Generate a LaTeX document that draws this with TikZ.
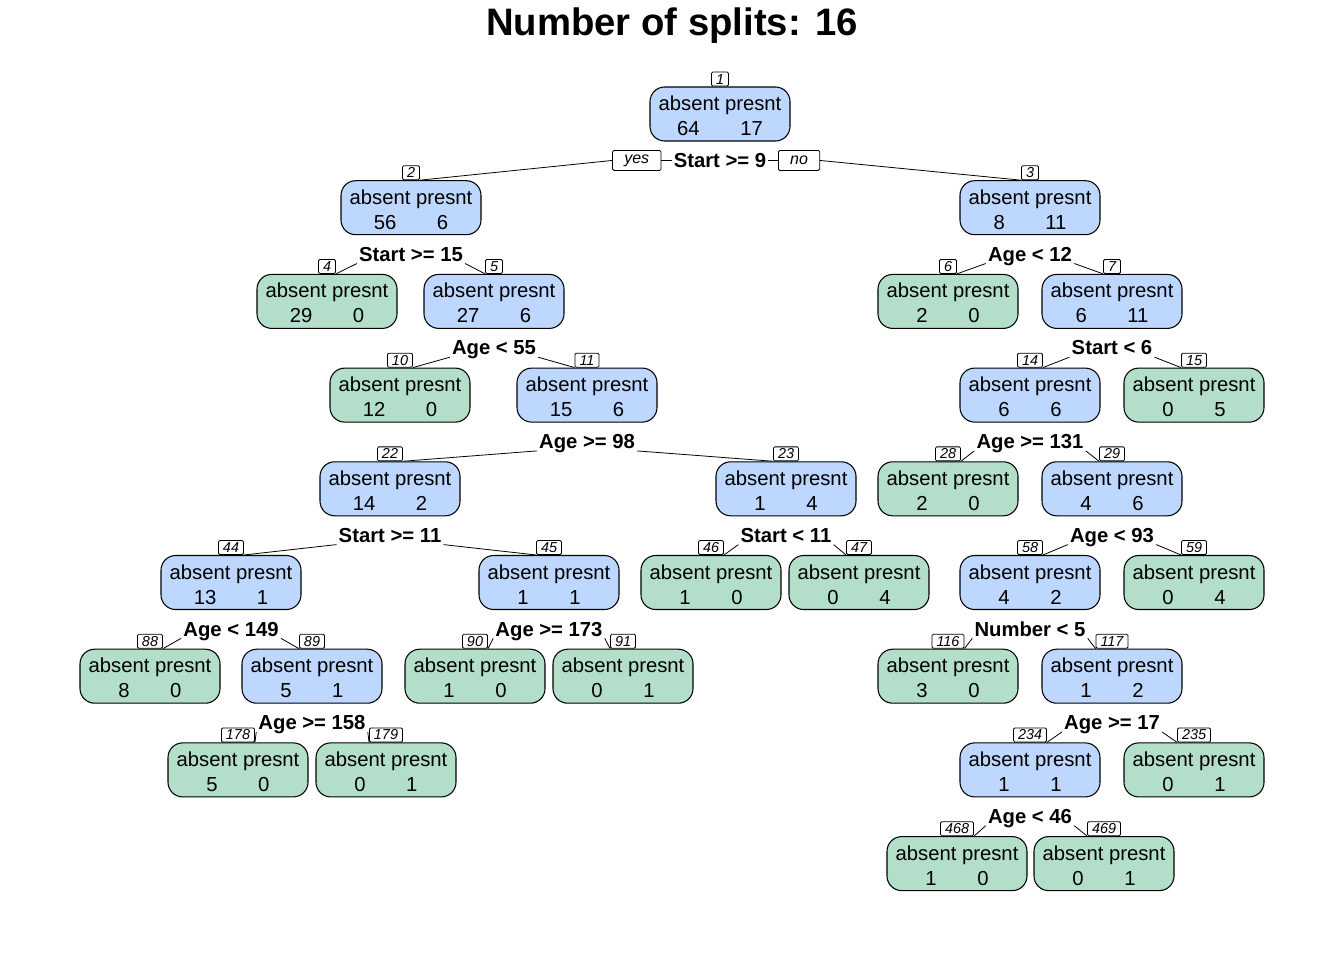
\documentclass[tikz,border=0pt]{standalone}
\usepackage{fontspec}
\setmainfont{Liberation Sans}
\usetikzlibrary{positioning}
\definecolor{splitblue}{HTML}{BDD7FF}
\definecolor{leafgreen}{HTML}{B3DFCA}

\begin{document}
\begin{tikzpicture}[
    x=0.75pt, y=-0.75pt,
    tnode/.style={
        draw, fill=#1,
        line width=0.8pt,
        rounded corners=11pt,
        minimum width=105pt, minimum height=40.5pt,
        inner sep=0pt,
        align=center,
        font=\fontsize{15.2}{18.75}\selectfont
    },
    idx/.style={
        draw, fill=white,
        line width=0.6pt,
        rounded corners=1pt,
        inner xsep=3.4pt, inner ysep=0pt,
        minimum height=10.5pt,
        font=\fontsize{10.8}{12}\selectfont\itshape
    },
    split/.style={
        inner sep=1.5pt, text depth=0pt,
        anchor=base,
        font=\fontsize{15.2}{18}\selectfont\bfseries
    },
    yesno/.style={
        draw, fill=white,
        line width=0.6pt,
        rounded corners=1pt,
        inner xsep=8.8pt, inner ysep=0pt,
        minimum height=15pt,
        font=\fontsize{12}{14}\selectfont\itshape
    },
    edge/.style={line width=0.6pt}
]
\useasboundingbox (0,0) rectangle (1344,960);

\node[font=\fontsize{28.7}{32}\selectfont\bfseries] (title) at (672,26) {Number of splits: 16};

% nodes: id / x / level / colour / absent / presnt
\foreach \id/\x/\lv/\col/\a/\b in {
    1/720/0/splitblue/64/17,
    2/411/1/splitblue/56/6,
    3/1030/1/splitblue/8/11,
    4/327/2/leafgreen/29/0,
    5/494/2/splitblue/27/6,
    6/948/2/leafgreen/2/0,
    7/1112/2/splitblue/6/11,
    10/400/3/leafgreen/12/0,
    11/587/3/splitblue/15/6,
    14/1030/3/splitblue/6/6,
    15/1194/3/leafgreen/0/5,
    22/390/4/splitblue/14/2,
    23/786/4/splitblue/1/4,
    28/948/4/leafgreen/2/0,
    29/1112/4/splitblue/4/6,
    44/231/5/splitblue/13/1,
    45/549/5/splitblue/1/1,
    46/711/5/leafgreen/1/0,
    47/859/5/leafgreen/0/4,
    58/1030/5/splitblue/4/2,
    59/1194/5/leafgreen/0/4,
    88/150/6/leafgreen/8/0,
    89/312/6/splitblue/5/1,
    90/475/6/leafgreen/1/0,
    91/623/6/leafgreen/0/1,
    116/948/6/leafgreen/3/0,
    117/1112/6/splitblue/1/2,
    178/238/7/leafgreen/5/0,
    179/386/7/leafgreen/0/1,
    234/1030/7/splitblue/1/1,
    235/1194/7/leafgreen/0/1,
    468/957/8/leafgreen/1/0,
    469/1104/8/leafgreen/0/1}{
  \pgfmathsetmacro\yc{114+93.7*\lv}
  \node[tnode=\col] (n\id) at (\x,\yc)
    {\raisebox{-3pt}[\height][\depth]{\begin{tabular}{@{}c@{}}absent presnt\\ \a\hspace{2em}\b\end{tabular}}};
  \node[idx, above=0pt of n\id] (i\id) {\id};
}

% root split with yes / no
\node[split] (s1) at ([yshift=-19.5pt]n1.south) {Start >= 9};
\node[yesno, left=9pt of s1.center, xshift=-35pt] (yes) {yes};
\node[yesno, right=9pt of s1.center, xshift=34.5pt] (no) {no};
\draw[edge] (i2.south east) -- (yes.west);
\draw[edge] (yes) -- (s1);
\draw[edge] (s1) -- (no);
\draw[edge] (no.east) -- (i3.south west);

% other splits: id / label / left child / right child
\foreach \id/\txt/\l/\r in {
    2/Start >= 15/4/5,
    3/Age < 12/6/7,
    5/Age < 55/10/11,
    7/Start < 6/14/15,
    11/Age >= 98/22/23,
    14/Age >= 131/28/29,
    22/Start >= 11/44/45,
    23/Start < 11/46/47,
    29/Age < 93/58/59,
    44/Age < 149/88/89,
    45/Age >= 173/90/91,
    58/Number < 5/116/117,
    89/Age >= 158/178/179,
    117/Age >= 17/234/235,
    234/Age < 46/468/469}{
  \node[split] (s\id) at ([yshift=-19.5pt]n\id.south) {\txt};
  \draw[edge] (s\id.south west) -- (i\l.south east);
  \draw[edge] (s\id.south east) -- (i\r.south west);
}
\end{tikzpicture}
\end{document}
